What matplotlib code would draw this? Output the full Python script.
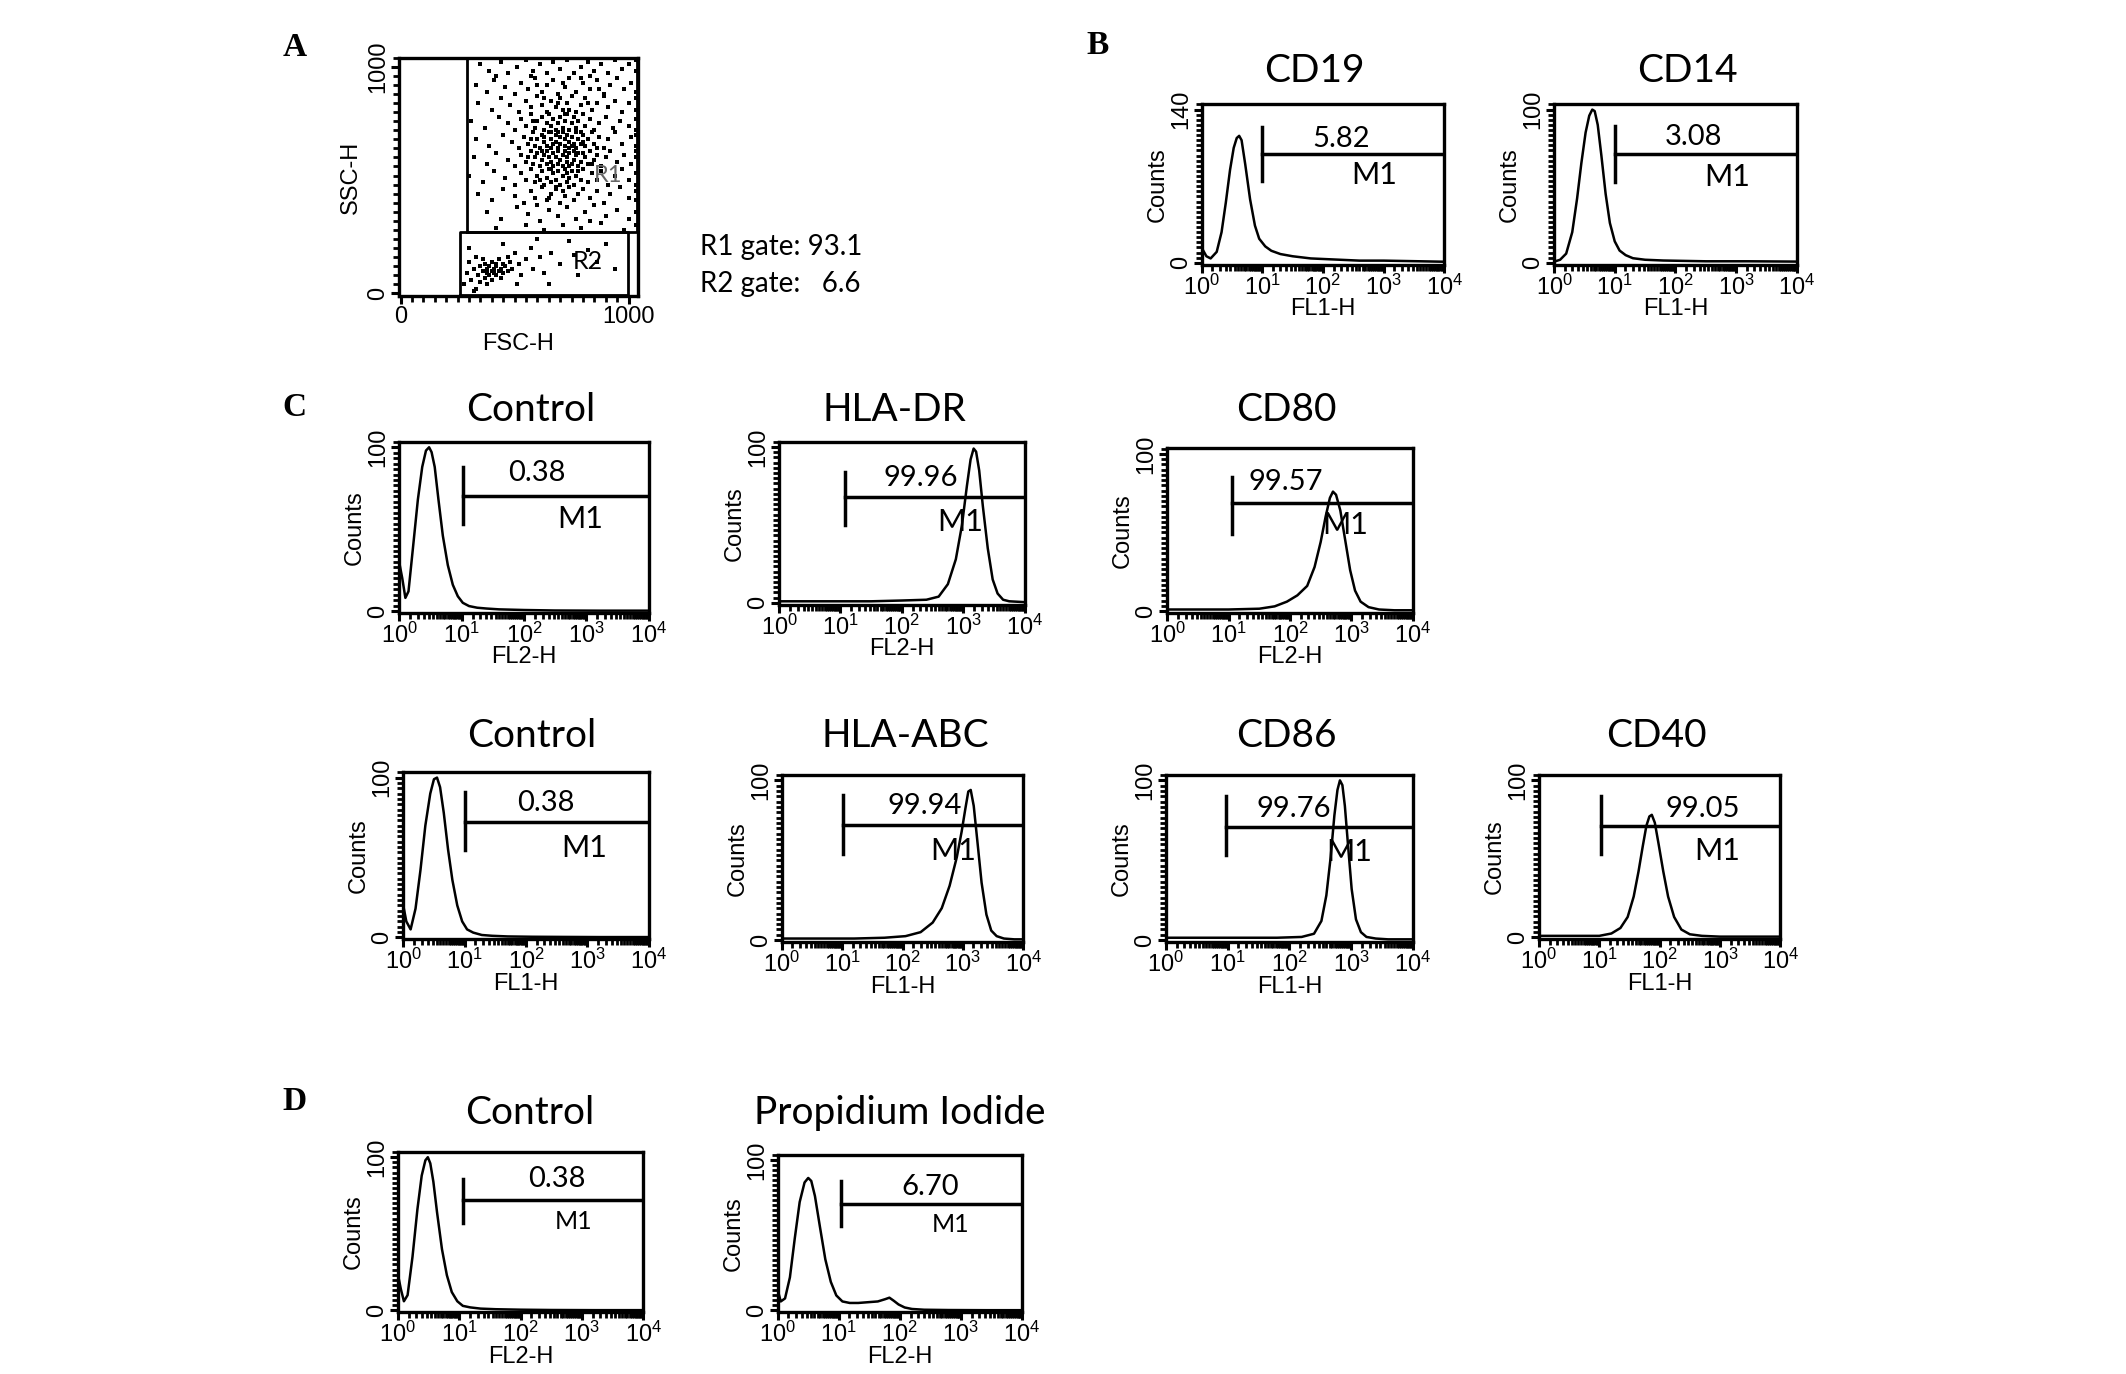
import matplotlib
matplotlib.use('Agg')
import matplotlib.pyplot as plt
import numpy as np
from matplotlib.ticker import LogLocator, MultipleLocator, FixedLocator, NullFormatter

plt.rcParams['mathtext.fontset'] = 'custom'
plt.rcParams['mathtext.rm'] = 'Liberation Sans'
plt.rcParams['mathtext.it'] = 'Liberation Sans:italic'
plt.rcParams['mathtext.bf'] = 'Liberation Sans:bold'
plt.rcParams['mathtext.default'] = 'rm'

# ========== PANEL A: FSC/SSC DOT PLOT (values in units of 10 channels) ==========
R1_PTS = np.array([
    35,101, 39,98, 44,102, 47,97, 51,100, 55,103, 58,98, 61,101, 64,97, 67,102, 70,99, 73,103,
    76,97, 79,100, 82,102, 85,98, 88,101, 91,97, 94,103, 97,99, 100,101, 103,98, 103,103, 42,96,
    57,96, 83,96,
    33,92, 38,89, 41,94, 46,91, 50,88, 53,93, 56,90, 59,95, 62,89, 64,92, 67,94, 69,88, 72,91,
    74,95, 77,89, 80,93, 83,90, 86,94, 89,88, 92,92, 95,95, 98,90, 101,93, 103,89, 60,92, 71,93,
    79,95, 87,90,
    34,84, 40,81, 44,86, 48,83, 52,80, 55,85, 57,82, 60,87, 62,83, 64,80, 66,85, 68,82, 70,86,
    71,81, 73,84, 75,87, 77,80, 79,83, 81,86, 84,81, 86,84, 89,87, 91,82, 94,85, 97,80, 100,84,
    103,86, 103,81, 63,86, 69,84, 74,81, 82,84,
    31,76, 37,73, 43,78, 47,75, 50,72, 53,77, 55,74, 57,79, 59,73, 60,76, 62,78, 63,72, 64,75,
    65,79, 66,74, 67,77, 68,72, 69,75, 70,78, 71,73, 72,76, 73,79, 74,72, 75,75, 76,78, 77,73,
    78,76, 80,79, 81,74, 83,77, 85,72, 87,75, 90,78, 93,73, 96,76, 100,74, 103,77, 103,72, 58,76,
    66,71, 72,79, 79,71,
    33,68, 39,65, 45,70, 49,67, 52,64, 54,69, 56,66, 58,71, 59,65, 60,68, 61,64, 62,70, 63,67,
    64,65, 65,71, 66,68, 66,64, 67,66, 68,70, 68,67, 69,64, 70,69, 70,66, 71,71, 72,65, 72,68,
    73,70, 74,64, 74,67, 75,69, 76,66, 77,71, 77,64, 78,68, 79,66, 80,70, 81,65, 82,68, 84,71,
    85,66, 87,69, 89,64, 91,68, 94,71, 97,66, 101,69, 103,65, 103,70, 57,68, 63,69, 69,71, 75,65,
    80,67, 86,64,
    32,60, 38,57, 42,62, 47,59, 50,56, 53,61, 55,58, 57,63, 58,57, 59,60, 60,62, 61,56, 62,59,
    63,61, 64,57, 64,63, 65,60, 66,58, 67,62, 67,56, 68,60, 69,63, 69,57, 70,59, 71,61, 71,56,
    72,63, 73,58, 73,60, 74,62, 75,57, 76,59, 76,63, 77,61, 78,56, 79,58, 80,62, 81,60, 82,57,
    83,63, 85,59, 86,61, 88,56, 90,60, 92,63, 95,58, 98,61, 101,57, 103,60, 103,63, 56,60, 62,63,
    66,55, 74,56, 78,62, 84,57,
    30,52, 36,49, 41,54, 46,51, 50,48, 53,53, 55,50, 57,55, 59,49, 60,52, 62,54, 63,48, 64,51,
    65,55, 66,49, 67,53, 68,50, 69,54, 70,48, 71,52, 72,55, 73,49, 74,51, 75,54, 76,48, 77,52,
    79,50, 80,55, 82,49, 84,53, 86,50, 88,54, 91,48, 94,52, 97,55, 100,50, 103,53, 103,48, 61,50,
    68,47, 73,53, 78,54,
    34,44, 40,41, 45,46, 50,43, 54,40, 57,45, 59,42, 62,47, 64,41, 66,44, 68,46, 70,40, 72,43,
    74,47, 76,41, 78,44, 80,46, 83,42, 86,45, 89,40, 92,44, 96,47, 100,42, 103,45, 103,41, 65,42,
    71,45,
    38,36, 44,33, 51,38, 56,35, 61,32, 65,37, 69,34, 73,38, 77,33, 81,36, 85,39, 90,34, 95,37,
    100,33, 103,36, 60,39, 83,32,
    42,29, 55,30, 63,28, 71,30, 79,29, 88,31, 98,28, 103,30,
]).reshape(-1, 2) * 10

R2_PTS = np.array([
    28,4, 29,9, 30,14, 31,6, 32,11, 33,2, 33,16, 34,8, 35,12, 35,5, 36,10, 36,15, 37,7, 37,13,
    38,9, 38,11, 38,4, 39,12, 39,8, 40,10, 40,14, 40,6, 41,11, 41,9, 42,13, 42,8, 42,12, 43,10,
    43,15, 44,11, 44,7, 45,13, 45,9, 46,12, 47,16, 47,10, 48,14, 49,11, 50,18, 52,13, 53,8, 55,15,
    57,20, 58,11, 61,16, 63,9, 66,18, 70,13, 74,23, 78,8, 82,19, 86,14, 30,20, 32,1, 45,22, 51,4,
    65,4, 90,22, 94,11, 60,24, 76,17,
]).reshape(-1, 2) * 10

R1_GATE = [290, 1035, 270, 1037]   # x0, x1, y0, y1
R2_GATE = [260, 996, -7, 270]
GATE_TEXT = ['R1 gate: 93.1', 'R2 gate:   6.6']

# ========== HISTOGRAMS: x = log10(channel), y = counts ==========
CD19_X = [0.02, 0.08, 0.15, 0.25, 0.33, 0.40, 0.47, 0.53, 0.58, 0.62, 0.66, 0.72, 0.80, 0.88, 0.95, 1.05,
          1.15, 1.30, 1.50, 1.80, 2.20, 2.60, 3.00, 3.50, 3.98]
CD19_Y = [12, 6, 4, 10, 28, 55, 85, 105, 114, 116, 112, 90, 58, 34, 22, 15, 11, 8, 6, 4, 3, 2, 2, 1.5, 1]

CD14_X = [0.02, 0.10, 0.20, 0.30, 0.38, 0.45, 0.52, 0.58, 0.63, 0.67, 0.72, 0.78, 0.85, 0.92, 1.00, 1.08,
          1.18, 1.30, 1.50, 1.80, 2.50, 3.20, 3.98]
CD14_Y = [1, 2, 6, 20, 42, 65, 85, 96, 100, 99, 90, 70, 45, 26, 14, 8, 5, 3, 2, 1.5, 1, 1, 0.8]

C_CTRL2_X = [0.01, 0.05, 0.10, 0.15, 0.22, 0.30, 0.37, 0.43, 0.48, 0.52, 0.57, 0.63, 0.70, 0.78, 0.86,
             0.94, 1.02, 1.12, 1.25, 1.40, 1.60, 2.00, 2.50, 3.20, 3.98]
C_CTRL2_Y = [28, 20, 8, 12, 38, 68, 88, 98, 100, 97, 88, 68, 46, 28, 16, 9, 5, 3, 2, 1.5, 1, 0.6, 0.3, 0.2, 0.2]

HLADR_X = [0.02, 0.50, 1.00, 1.50, 2.00, 2.40, 2.60, 2.75, 2.88, 2.98, 3.06, 3.12, 3.17, 3.21, 3.26,
           3.32, 3.40, 3.48, 3.56, 3.65, 3.75, 3.98]
HLADR_Y = [1, 1, 1, 1, 1.5, 2, 4, 12, 28, 50, 75, 92, 99, 97, 85, 62, 35, 15, 6, 2, 1, 0.5]

CD80_X = [0.02, 0.50, 1.00, 1.50, 1.75, 1.95, 2.12, 2.28, 2.40, 2.50, 2.58, 2.65, 2.70, 2.75, 2.82,
          2.90, 2.98, 3.06, 3.15, 3.28, 3.45, 3.70, 3.98]
CD80_Y = [1, 1, 1, 1.5, 3, 6, 10, 16, 28, 44, 60, 72, 76, 74, 64, 45, 26, 13, 6, 2.5, 1, 0.5, 0.5]

C_CTRL1_X = [0.01, 0.05, 0.12, 0.20, 0.28, 0.36, 0.44, 0.50, 0.55, 0.60, 0.66, 0.73, 0.80, 0.88, 0.96,
             1.04, 1.14, 1.28, 1.45, 1.70, 2.10, 2.60, 3.20, 3.98]
C_CTRL1_Y = [18, 10, 5, 18, 42, 70, 90, 99, 100, 94, 78, 55, 36, 20, 10, 5, 3, 1.5, 1, 0.6, 0.4, 0.3, 0.2, 0.2]

HLAABC_X = [0.02, 0.60, 1.20, 1.70, 2.05, 2.30, 2.50, 2.65, 2.78, 2.90, 2.98, 3.04, 3.09, 3.13, 3.18,
            3.24, 3.31, 3.39, 3.47, 3.56, 3.68, 3.85, 3.98]
HLAABC_Y = [1, 1, 1, 1.5, 2.5, 5, 11, 20, 34, 52, 68, 82, 93, 94, 84, 62, 36, 16, 6, 2.5, 1, 0.5, 0.5]

CD86_X = [0.02, 0.60, 1.20, 1.80, 2.20, 2.40, 2.52, 2.60, 2.67, 2.73, 2.78, 2.82, 2.86, 2.90, 2.95,
          3.01, 3.08, 3.16, 3.25, 3.40, 3.60, 3.98]
CD86_Y = [1.5, 1.5, 1.5, 1.5, 2, 4, 12, 28, 52, 78, 94, 100, 97, 84, 60, 32, 13, 5, 2, 1, 0.5, 0.5]

CD40_X = [0.02, 0.50, 1.00, 1.20, 1.35, 1.47, 1.57, 1.65, 1.72, 1.78, 1.83, 1.87, 1.92, 1.98, 2.06,
          2.14, 2.24, 2.36, 2.50, 2.70, 3.00, 3.50, 3.98]
CD40_Y = [1, 1, 1, 2.5, 6, 13, 26, 42, 58, 71, 77, 78, 73, 60, 42, 26, 13, 5, 2, 1, 0.5, 0.5, 0.5]

D_CTRL_X = [0.01, 0.05, 0.10, 0.16, 0.24, 0.32, 0.39, 0.45, 0.49, 0.53, 0.58, 0.64, 0.72, 0.80, 0.88,
            0.97, 1.06, 1.18, 1.35, 1.60, 2.00, 2.50, 3.20, 3.98]
D_CTRL_Y = [22, 14, 6, 10, 35, 66, 88, 98, 100, 96, 84, 64, 40, 23, 12, 6, 3, 2, 1.2, 0.8, 0.5, 0.3, 0.2, 0.2]

PI_X = [0.01, 0.05, 0.12, 0.20, 0.28, 0.36, 0.44, 0.50, 0.55, 0.61, 0.69, 0.78, 0.87, 0.96, 1.06,
        1.18, 1.32, 1.48, 1.64, 1.76, 1.83, 1.90, 1.98, 2.08, 2.20, 2.40, 2.80, 3.40, 3.98]
PI_Y = [12, 6, 8, 22, 48, 72, 85, 88, 86, 76, 56, 34, 19, 10, 6, 5, 5, 5.5, 6, 7.5, 8.5, 6.5, 4, 2, 1, 0.5, 0.3, 0.2, 0.2]

MARKER_VALUES = ['5.82', '3.08', '0.38', '99.96', '99.57', '0.38', '99.94', '99.76', '99.05', '0.38', '6.70']

# ========== LAYOUT (in 1550 x 1002 reference units) ==========
W, H = 1550.0, 1002.0
TITLE_FONT = ['Lato', 'DejaVu Sans']
AXIS_FONT = ['Liberation Sans', 'DejaVu Sans']
LETTER_FONT = ['Liberation Serif', 'DejaVu Serif']


def box(x0, y0, x1, y1):
    return [x0 / W, 1 - y1 / H, (x1 - x0) / W, (y1 - y0) / H]


fig = plt.figure(figsize=(21.26, 13.74), dpi=100)


def style_frame(ax):
    for sp in ax.spines.values():
        sp.set_linewidth(2.4)
    ax.tick_params(which='major', direction='out', length=6, width=2.2, labelsize=17, pad=1)
    ax.tick_params(which='minor', direction='out', length=4, width=2.0)
    for lab in ax.get_xticklabels() + ax.get_yticklabels():
        lab.set_family(AXIS_FONT)


def hist_panel(rect, title, tx, ty, xs, ys, ymax, chan, value, gate, msize=22):
    bar_x, bar_lo, bar_hi, line_y, val_x, val_y, m_x, m_y = gate
    ax = fig.add_axes(box(*rect))
    ax.plot(10 ** np.array(xs), ys, color='black', lw=1.8)
    ax.set_xscale('log')
    ax.set_xlim(1, 1e4)
    ax.set_ylim(-ymax * 0.012, ymax * 1.035)
    ax.xaxis.set_major_locator(FixedLocator([1, 10, 100, 1000, 10000]))
    ax.set_xticklabels([r'$10^{%d}$' % i for i in range(5)])
    ax.xaxis.set_minor_locator(LogLocator(base=10, subs=np.arange(1.5, 10, 0.5), numticks=100))
    ax.xaxis.set_minor_formatter(NullFormatter())
    ax.yaxis.set_major_locator(FixedLocator([0, ymax]))
    ax.yaxis.set_minor_locator(MultipleLocator(ymax / 30))
    ax.set_yticklabels(['0', str(ymax)], rotation=90, va='center')
    style_frame(ax)
    ax.set_ylabel('Counts', family=AXIS_FONT, fontsize=17, labelpad=1)
    ax.set_xlabel(chan, family=AXIS_FONT, fontsize=17, labelpad=-1)
    # M1 marker
    ax.plot([10 ** bar_x, 10 ** bar_x], [bar_lo, bar_hi], color='black', lw=2.5)
    ax.plot([10 ** bar_x, 1e4], [line_y, line_y], color='black', lw=2.5)
    ax.text(10 ** val_x, val_y, value, ha='center', va='center', family=TITLE_FONT, fontsize=21)
    ax.text(10 ** m_x, m_y, 'M1', ha='center', va='center', family=TITLE_FONT, fontsize=msize)
    fig.text(tx / W, 1 - ty / H, title, ha='center', va='center', family=TITLE_FONT, fontsize=28)
    return ax


# ---------- Panel A ----------
axA = fig.add_axes(box(291, 42, 465, 216))
axA.scatter(R1_PTS[:, 0], R1_PTS[:, 1], s=12, marker='s', color='black', linewidths=0)
axA.scatter(R2_PTS[:, 0], R2_PTS[:, 1], s=12, marker='s', color='black', linewidths=0)
axA.plot([R1_GATE[0], R1_GATE[1], R1_GATE[1], R1_GATE[0], R1_GATE[0]],
         [R1_GATE[2], R1_GATE[2], R1_GATE[3], R1_GATE[3], R1_GATE[2]], color='black', lw=2)
axA.plot([R2_GATE[0], R2_GATE[1], R2_GATE[1], R2_GATE[0], R2_GATE[0]],
         [R2_GATE[2], R2_GATE[2], R2_GATE[3], R2_GATE[3], R2_GATE[2]], color='black', lw=2)
axA.text(820, 140, 'R2', ha='center', va='center', family=TITLE_FONT, fontsize=18)
axA.text(910, 520, 'R1', ha='center', va='center', family=TITLE_FONT, fontsize=17, color='#666666')
axA.set_xlim(-6, 1040)
axA.set_ylim(-12, 1040)
axA.xaxis.set_major_locator(FixedLocator([0, 1000]))
axA.xaxis.set_minor_locator(MultipleLocator(50))
axA.yaxis.set_major_locator(FixedLocator([0, 1000]))
axA.yaxis.set_minor_locator(MultipleLocator(40))
axA.set_xticklabels(['0', '1000'])
axA.set_yticklabels(['0', '1000'], rotation=90, va='center')
style_frame(axA)
axA.set_xlabel('FSC-H', family=AXIS_FONT, fontsize=17, labelpad=4)
axA.set_ylabel('SSC-H', family=AXIS_FONT, fontsize=17, labelpad=4)
fig.text(510 / W, 1 - 180 / H, GATE_TEXT[0], ha='left', va='center', family=TITLE_FONT, fontsize=20)
fig.text(510 / W, 1 - 207 / H, GATE_TEXT[1], ha='left', va='center', family=TITLE_FONT, fontsize=20)

# ---------- Panel B ----------
hist_panel((876, 76, 1053, 193), 'CD19', 958, 52, CD19_X, CD19_Y, 140, 'FL1-H', MARKER_VALUES[0],
           (1.0, 75, 124, 99, 2.3, 113, 2.85, 80))
hist_panel((1133, 76, 1310, 193), 'CD14', 1230, 52, CD14_X, CD14_Y, 100, 'FL1-H', MARKER_VALUES[1],
           (1.0, 53, 89, 71, 2.3, 82, 2.85, 56))

# ---------- Panel C ----------
hist_panel((291, 322, 473, 447), 'Control', 387, 299, C_CTRL2_X, C_CTRL2_Y, 100, 'FL2-H', MARKER_VALUES[2],
           (1.02, 53, 88, 70, 2.21, 84, 2.9, 56))
hist_panel((568, 322, 747, 441), 'HLA-DR', 652, 299, HLADR_X, HLADR_Y, 100, 'FL2-H', MARKER_VALUES[3],
           (1.07, 50, 84, 68, 2.31, 80, 2.95, 52))
hist_panel((851, 327, 1030, 447), 'CD80', 938, 299, CD80_X, CD80_Y, 100, 'FL2-H', MARKER_VALUES[4],
           (1.05, 49, 85, 69, 1.93, 82, 2.9, 55))
hist_panel((294, 563, 473, 685), 'Control', 388, 537, C_CTRL1_X, C_CTRL1_Y, 100, 'FL1-H', MARKER_VALUES[5],
           (1.01, 55, 91, 72, 2.32, 84, 2.95, 56))
hist_panel((570, 565, 746, 687), 'HLA-ABC', 660, 537, HLAABC_X, HLAABC_Y, 100, 'FL1-H', MARKER_VALUES[6],
           (1.01, 54, 91, 72, 2.37, 84, 2.84, 56))
hist_panel((850, 565, 1030, 687), 'CD86', 938, 537, CD86_X, CD86_Y, 100, 'FL1-H', MARKER_VALUES[7],
           (0.98, 53, 90, 71, 2.07, 82, 2.97, 55))
hist_panel((1122, 565, 1298, 685), 'CD40', 1208, 537, CD40_X, CD40_Y, 100, 'FL1-H', MARKER_VALUES[8],
           (1.02, 53, 90, 71, 2.72, 82, 2.95, 55))

# ---------- Panel D ----------
hist_panel((290, 840, 469, 957), 'Control', 386, 812, D_CTRL_X, D_CTRL_Y, 100, 'FL2-H', MARKER_VALUES[9],
           (1.07, 57, 86, 72, 2.6, 86, 2.86, 58), msize=18)
hist_panel((567, 842, 745, 957), 'Propidium Iodide', 656, 812, PI_X, PI_Y, 100, 'FL2-H', MARKER_VALUES[10],
           (1.03, 56, 86, 71, 2.5, 82, 2.84, 57), msize=18)

# ---------- panel letters ----------
for letter, lx, ly in [('A', 215, 35), ('B', 800, 33), ('C', 215, 297), ('D', 215, 803)]:
    fig.text(lx / W, 1 - ly / H, letter, ha='center', va='center', family=LETTER_FONT,
             fontsize=24, fontweight='bold')

fig.savefig('out.png', dpi=100)
